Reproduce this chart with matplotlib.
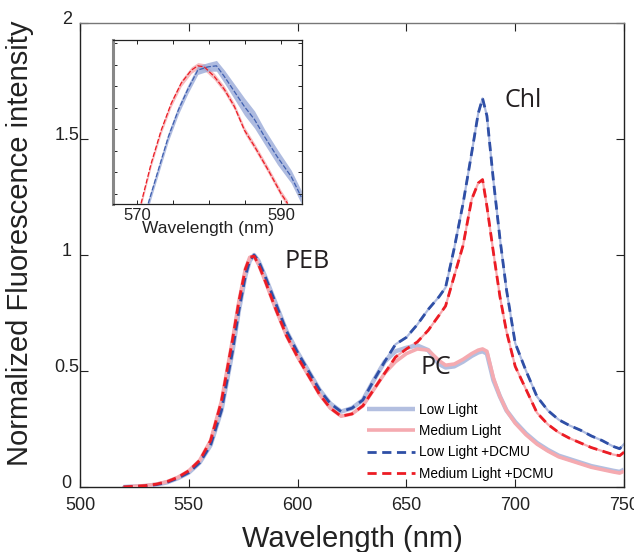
import matplotlib
matplotlib.use("Agg")
import matplotlib.pyplot as plt
import matplotlib.transforms as mtransforms

plt.rcParams['font.family'] = ['Liberation Sans', 'DejaVu Sans']

# ---------------- main spectra ----------------
wavelength = [520, 525, 530, 535, 540, 545, 550, 555, 560, 565, 570, 573, 576, 578,
              580, 582, 585, 590, 595, 600, 605, 610, 615, 620, 625, 630, 635, 640,
              645, 650, 655, 660, 665, 668, 672, 676, 680, 683, 685, 687, 690, 693,
              696, 700, 705, 710, 715, 720, 725, 730, 735, 740, 745, 748, 750]

low_dcmu = [0.0, 0.002, 0.004, 0.01, 0.02, 0.038, 0.062, 0.105, 0.18, 0.33, 0.58, 0.76,
            0.91, 0.975, 1.0, 0.975, 0.91, 0.79, 0.67, 0.58, 0.50, 0.42, 0.36, 0.325,
            0.34, 0.375, 0.46, 0.54, 0.615, 0.645, 0.70, 0.765, 0.82, 0.86, 1.03, 1.22,
            1.44, 1.61, 1.675, 1.60, 1.32, 1.07, 0.85, 0.62, 0.50, 0.39, 0.33, 0.29,
            0.265, 0.245, 0.22, 0.20, 0.175, 0.165, 0.185]

med_dcmu = [0.0, 0.003, 0.006, 0.012, 0.023, 0.042, 0.07, 0.115, 0.20, 0.37, 0.63, 0.80,
            0.94, 0.99, 0.995, 0.96, 0.89, 0.765, 0.65, 0.56, 0.48, 0.40, 0.34, 0.305,
            0.315, 0.35, 0.42, 0.49, 0.56, 0.595, 0.625, 0.675, 0.74, 0.78, 0.91, 1.04,
            1.24, 1.31, 1.325, 1.21, 1.01, 0.82, 0.67, 0.52, 0.42, 0.32, 0.27, 0.235,
            0.21, 0.19, 0.17, 0.155, 0.14, 0.135, 0.15]

low_light = [0.0, 0.002, 0.004, 0.01, 0.02, 0.038, 0.062, 0.105, 0.18, 0.33, 0.58, 0.76,
             0.91, 0.975, 1.0, 0.975, 0.91, 0.79, 0.67, 0.58, 0.50, 0.42, 0.36, 0.325,
             0.34, 0.375, 0.46, 0.54, 0.585, 0.60, 0.61, 0.59, 0.53, 0.515, 0.52, 0.54,
             0.565, 0.58, 0.585, 0.575, 0.46, 0.39, 0.33, 0.28, 0.23, 0.19, 0.16, 0.135,
             0.12, 0.105, 0.09, 0.08, 0.07, 0.065, 0.075]

med_light = [0.0, 0.003, 0.006, 0.012, 0.023, 0.042, 0.07, 0.115, 0.20, 0.37, 0.63, 0.80,
             0.94, 0.99, 0.995, 0.96, 0.89, 0.765, 0.65, 0.56, 0.48, 0.40, 0.34, 0.305,
             0.315, 0.35, 0.42, 0.49, 0.54, 0.575, 0.595, 0.59, 0.545, 0.525, 0.53, 0.55,
             0.575, 0.59, 0.595, 0.585, 0.47, 0.39, 0.33, 0.275, 0.225, 0.185, 0.155, 0.13,
             0.115, 0.10, 0.085, 0.075, 0.065, 0.06, 0.068]

# ---------------- inset (zoom around the PEB peak) ----------------
inset_wl_low = [571.5, 572.9, 574.3, 575.7, 577.0, 578.4, 579.8, 581.0, 582.1, 583.5,
                584.9, 586.3, 587.7, 589.5, 591.4, 592.8]
inset_low = [0.871, 0.902, 0.933, 0.958, 0.977, 0.995, 0.998, 0.999, 0.989, 0.975,
             0.961, 0.949, 0.933, 0.914, 0.896, 0.877]
inset_low_sd = [0.004, 0.004, 0.004, 0.004, 0.004, 0.004, 0.004, 0.005, 0.006, 0.007,
                0.008, 0.008, 0.007, 0.007, 0.006, 0.006]

inset_wl_med = [570.5, 571.9, 573.3, 574.7, 576.1, 577.5, 578.4, 579.3, 580.7, 582.1,
                583.5, 584.9, 586.3, 588.2, 590.0, 590.9]
inset_med = [0.871, 0.908, 0.939, 0.964, 0.983, 0.995, 0.999, 0.998, 0.989, 0.977,
             0.961, 0.939, 0.924, 0.902, 0.88, 0.871]
inset_med_sd = [0.003, 0.003, 0.003, 0.003, 0.003, 0.003, 0.003, 0.003, 0.003, 0.003,
                0.003, 0.003, 0.003, 0.003, 0.003, 0.003]

x_ticks = [500, 550, 600, 650, 700, 750]
y_ticks = [0, 0.5, 1, 1.5, 2]
y_tick_labels = ['0', '0.5', '1', '1.5', '2']
inset_x_ticks = [570, 575, 580, 585, 590]
inset_x_labels = ['570', '', '', '', '590']
inset_y_ticks = [0.88, 0.90, 0.92, 0.94, 0.96, 0.98, 1.00, 1.02]

legend_labels = ['Low Light', 'Medium Light', 'Low Light +DCMU', 'Medium Light +DCMU']

c_low_light = '#b3bfe0'
c_med_light = '#f5aab0'
c_low_dcmu = '#2f4fa6'
c_med_dcmu = '#ec1c24'

W, H = 634, 552
fig = plt.figure(figsize=(W / 100, H / 100), dpi=100)
ax = fig.add_axes([80 / W, 1 - 487 / H, 544 / W, 464 / H])

# pale shading under dashed curves
ax.plot(wavelength, low_dcmu, color='#aebbe0', lw=1.6, zorder=2)
ax.plot(wavelength, med_dcmu, color='#f7a9ae', lw=1.6, zorder=2)
# solid light curves
l1, = ax.plot(wavelength, low_light, color=c_low_light, lw=3.2, zorder=3,
              solid_capstyle='butt')
l2, = ax.plot(wavelength, med_light, color=c_med_light, lw=2.6, zorder=3,
              solid_capstyle='butt')
# dashed DCMU curves
l3, = ax.plot(wavelength, low_dcmu, color=c_low_dcmu, lw=2.0, ls=(0, (3.3, 2.0)), zorder=4)
l4, = ax.plot(wavelength, med_dcmu, color=c_med_dcmu, lw=2.0, ls=(0, (3.3, 2.0)), zorder=5)

ax.set_xlim(500, 750)
ax.set_ylim(0, 2)
ax.set_xticks(x_ticks)
ax.set_yticks(y_ticks)
ax.set_yticklabels(y_tick_labels)
ax.tick_params(direction='in', length=6, width=0.8, top=True, right=True,
               labelsize=13, colors='#222222')
ax.tick_params(axis='x', pad=7)
ax.tick_params(axis='y', pad=9.5)
for lab in ax.get_yticklabels():
    lab.set_horizontalalignment('center')
    lab.set_transform(lab.get_transform() +
                      mtransforms.ScaledTranslation(0, 6 / 100, fig.dpi_scale_trans))
for s in ax.spines.values():
    s.set_linewidth(1.0)
    s.set_color('#222222')
ax.spines['top'].set_color('#777777')

ax.set_xlabel('Wavelength (nm)', fontsize=21, color='#222222', labelpad=8)
ax.set_ylabel('Normalized Fluorescence intensity', fontsize=21, color='#222222')
ax.yaxis.set_label_coords((34 - 80) / 544, (487 - 243) / 464)

ann_font = dict(family=['Open Sans', 'DejaVu Sans'], fontsize=18, color='#231f20')
ax.text(594.2, 0.974, 'PEB', ha='left', va='center', **ann_font)
ax.text(695.3, 1.664, 'Chl', ha='left', va='center', **ann_font)
ax.text(656.7, 0.513, 'PC', ha='left', va='center', **ann_font)

leg = ax.legend([l1, l2, l3, l4], legend_labels, loc='upper left',
                bbox_to_anchor=((367 - 80) / 544, (487 - 403) / 464),
                frameon=False, fontsize=9.8, handlelength=3.5, handletextpad=0.3,
                borderpad=0, borderaxespad=0, labelspacing=0.53)

# ---------------- inset ----------------
axi = fig.add_axes([113 / W, 1 - 203.5 / H, 189 / W, 163.5 / H])
lo_lo = [v - s for v, s in zip(inset_low, inset_low_sd)]
lo_hi = [v + s for v, s in zip(inset_low, inset_low_sd)]
me_lo = [v - s for v, s in zip(inset_med, inset_med_sd)]
me_hi = [v + s for v, s in zip(inset_med, inset_med_sd)]
axi.fill_between(inset_wl_med, me_lo, me_hi, color='#f4a3a8', alpha=0.75, lw=0)
axi.fill_between(inset_wl_low, lo_lo, lo_hi, color='#93a5d6', alpha=0.75, lw=0)
axi.plot(inset_wl_med, inset_med, color=c_med_dcmu, lw=0.9, ls=(0, (4, 1.5)))
axi.plot(inset_wl_low, inset_low, color='#4060b0', lw=0.9, ls=(0, (4, 1.5)))
axi.set_xlim(566.6, 592.9)
axi.set_ylim(0.871, 1.023)
axi.set_xticks(inset_x_ticks)
axi.set_xticklabels(inset_x_labels)
axi.set_yticks(inset_y_ticks)
axi.set_yticklabels([])
axi.tick_params(direction='in', length=3, width=0.7, top=True, right=True,
                labelsize=12, colors='#222222', pad=3)
for s in axi.spines.values():
    s.set_linewidth(0.9)
    s.set_color('#222222')
axi.spines['left'].set_color('#888888')
axi.spines['left'].set_linewidth(2.2)
axi.set_xlabel('Wavelength (nm)', fontsize=12.5, color='#222222', labelpad=-1)

fig.savefig('out.png', dpi=100)
